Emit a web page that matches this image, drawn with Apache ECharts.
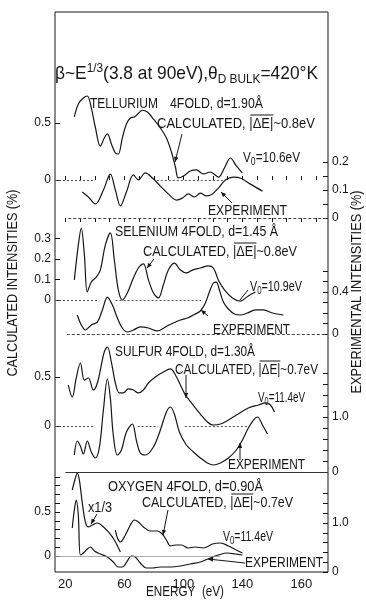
<!DOCTYPE html>
<html><head><meta charset="utf-8">
<script src="https://cdn.jsdelivr.net/npm/echarts@6/dist/echarts.min.js"></script>
<style>html,body{margin:0;padding:0;background:#fff}#c{width:366px;height:600px}</style>
</head><body><div id="c"></div>
<script>
// ---------------- data ----------------
const energyTickValues = [20, 60, 100, 140, 180];
const energyTickLabels = ['20', '60', '100', '140', '160'];
const energyMinorTicks = [20,30,40,50,60,70,80,90,100,110,120,130,140,150,160,170,180,190];

// Tellurium
const teCalcE = [26.1,28.8,32.2,34.9,37.6,40.3,43.7,46.4,48.5,51.2,53.9,55.9,58.6,61.4,64.1,66.8,69.5,72.2,75.6,79.7,84.4,88.5,91.9,94.6,96.6,100,104.7,108.8,113.6,118.3,123.7,127.8,131.9,135.9,140];
const teCalcV = [0.553,0.667,0.719,0.737,0.632,0.465,0.298,0.368,0.404,0.316,0.237,0.228,0.368,0.491,0.544,0.553,0.585,0.612,0.596,0.535,0.456,0.368,0.246,0.114,0.018,0.035,0.079,0.088,0.053,0.070,0.026,0.105,0.193,0.123,0.061];
const teExpE = [31.5,35.6,40.3,45.8,50.5,53.9,57.3,61.4,66.1,69.5,74.2,79,84.4,89.8,95.3,99.3,103.4,107.5,111.5,115.6,119.7,123.7,128.5,133.9,138.6,145.4,153.6];
const teExpV = [0.093,0.075,0.05,0.1,0.157,0.1,0.043,0.093,0.154,0.136,0.161,0.143,0.114,0.086,0.064,0.071,0.086,0.075,0.089,0.079,0.086,0.107,0.136,0.146,0.143,0.121,0.096];

// Selenium
const seCalcE = [26.1,28.8,30.8,32.9,34.9,37.6,41,43.7,47.1,50.5,53.2,55.9,58.6,62,66.1,69.5,72.9,76.3,79.7,83.1,86.4,89.8,93.9,98,102,106.1,111.5,117,120.3,123.7,127.8,133.2,138.6,144,148.8];
const seCalcV = [0.098,0.268,0.351,0.22,0.039,0.088,0.112,0.146,0.268,0.327,0.195,0.049,0.0,0.034,0.107,0.156,0.176,0.098,0.034,0.01,0.073,0.146,0.18,0.146,0.132,0.146,0.156,0.166,0.156,0.098,0.049,0.01,-0.005,0.02,0.039];
const seExpE = [28.1,30.8,33.6,37.6,41.7,45.1,48.5,51.9,55.3,58.6,62,66.1,70.8,76.3,82.4,87.8,93.2,98,102.7,106.8,111.5,114.9,117.6,120.3,122.3,124.4,127.1,130.5,134.6,138.6,143.4,148.8,154.2,160.3,167.8];
const seExpV = [0.181,0.086,0.038,0.086,0.114,0.229,0.352,0.276,0.152,0.057,0.019,0.038,0.067,0.057,0.029,0.067,0.105,0.133,0.152,0.181,0.219,0.295,0.4,0.486,0.495,0.419,0.305,0.238,0.19,0.181,0.2,0.229,0.229,0.2,0.181];

// Sulfur
const sCalcE = [22,24.7,27.4,30.2,32.9,35.6,39,41.7,44.4,46.4,48.5,51.2,53.9,56.6,59.3,62.7,66.1,69.5,72.9,76.3,81,86.4,91.2,94.6,98,101.4,106.1,111.5,116.3,120.3,125.1,130.5,137.2,144,150.9,155.6,159,161.7];
const sCalcV = [0.418,0.296,0.49,0.643,0.469,0.49,0.367,0.439,0.622,0.755,0.806,0.653,0.439,0.337,0.337,0.378,0.367,0.337,0.367,0.439,0.5,0.551,0.582,0.52,0.418,0.316,0.224,0.122,0.041,0.01,0.02,0.061,0.122,0.184,0.214,0.235,0.214,0.143];
const sExpE = [26.1,28.1,30.2,32.2,34.9,37.6,40.3,43,45.8,48.5,50.5,52.5,55.3,58,61.4,65.4,68.1,70.8,74.2,79.7,84.4,88.5,91.2,93.9,97.3,102,106.8,111.5,116.3,120.3,125.1,130.5,135.9,140,144,147.5,150.2,153.6,157];
const sExpV = [0.309,0.564,0.473,0.327,0.564,0.364,0.255,0.436,1.127,1.691,1.345,0.673,0.309,0.4,0.727,0.873,0.582,0.345,0.309,0.455,0.764,1.091,1.182,1.055,0.727,0.491,0.364,0.255,0.164,0.127,0.164,0.255,0.4,0.582,0.8,0.945,1.0,0.855,0.691];

// Oxygen
const oCalcThirdE = [24.7,26.8,28.1,29.5,31.5,33.6,35.6,38.3,41.7,45.1,49.2,53.2,57.3];
const oCalcThirdV = [0.75,0.886,0.943,0.864,0.602,0.386,0.33,0.352,0.375,0.341,0.273,0.182,0.045];
const oCalcE = [53.9,55.3,57.3,60.7,64.1,66.8,69.5,72.9,77.6,82.4,85.7,88.5,91.2,94.6,98.6,103.4,108.1,113.6,119.7,125.1,130.5,135.9,140];
const oCalcV = [0.295,0.205,0.159,0.239,0.352,0.409,0.386,0.33,0.284,0.284,0.25,0.182,0.114,0.125,0.125,0.091,0.102,0.091,0.136,0.148,0.114,0.068,0.034];
const oExpE = [24.7,26.1,27.4,28.8,30.2,32.2,34.9,37,39.7,43.7,48.5,52.5,55.9,58.6,62,64.7,67.4,70.8,74.9,79,84.4,91.2,98,104.7,111.5,118.3,123.7,129.8,135.2,140];
const oExpV = [0.898,1.265,1.469,1.163,0.347,0.388,0.469,0.51,0.429,0.367,0.306,0.204,0.102,0.102,0.224,0.327,0.306,0.184,0.082,0.082,0.102,0.102,0.122,0.163,0.204,0.286,0.347,0.388,0.367,0.347];

// axis tick values / labels
const teCalcTicks = [0, 0.5], teCalcTickLabels = ['0', '0.5'];
const teExpTicks = [0, 0.1, 0.2], teExpTickLabels = ['0', '0.1', '0.2'];
const teExpMinor = [0, 0.05, 0.1, 0.15, 0.2];
const seCalcTicks = [0, 0.1, 0.2, 0.3], seCalcTickLabels = ['0', '0.1', '0.2', '0.3'];
const seExpTicks = [0, 0.4], seExpTickLabels = ['0', '0.4'];
const seExpMinor = [0, 0.1, 0.2, 0.3, 0.4, 0.5, 0.6];
const sCalcTicks = [0, 0.5], sCalcTickLabels = ['0', '0.5'];
const sExpTicks = [0, 1.0], sExpTickLabels = ['0', '1.0'];
const sExpMinor = [0, 0.2, 0.4, 0.6, 0.8, 1.0, 1.2, 1.4, 1.6, 1.8];
const oCalcTicks = [0, 0.5], oCalcTickLabels = ['0', '0.5'];
const oCalcMinor = [0, 0.1, 0.2, 0.3, 0.4, 0.5, 0.6, 0.7, 0.8, 0.9];
const oExpTicks = [0, 1.0], oExpTickLabels = ['0', '1.0'];
const oExpMinor = [0, 0.2, 0.4, 0.6, 0.8, 1.0, 1.2, 1.4, 1.6];

// ---------------- layout ----------------
const G = { left: 55, right: 328, top: 12, bottom: 572 };
const INK = '#161616';
const FONT = '"Liberation Sans", Arial, sans-serif';

function yAx(zeroPx, ppu, side, ticks, labels, minor) {
  return {
    type: 'value', gridIndex: 0, position: side, offset: 0,
    min: -(G.bottom - zeroPx) / ppu, max: (zeroPx - G.top) / ppu,
    axisLine: { show: false }, splitLine: { show: false },
    axisTick: { show: true, inside: true, length: 5, customValues: minor || ticks, lineStyle: { color: INK, width: 1 } },
    axisLabel: {
      show: true, customValues: ticks, margin: 4, fontSize: 12, color: INK, fontFamily: FONT,
      formatter: v => { const i = ticks.findIndex(t => Math.abs(t - v) < 1e-6); return i >= 0 ? labels[i] : ''; }
    }
  };
}

const yAxes = [
  yAx(180, 114, 'left', teCalcTicks, teCalcTickLabels),
  yAx(218, 280, 'right', teExpTicks, teExpTickLabels, teExpMinor),
  yAx(300, 205, 'left', seCalcTicks, seCalcTickLabels),
  yAx(334, 105, 'right', seExpTicks, seExpTickLabels, seExpMinor),
  yAx(426, 98, 'left', sCalcTicks, sCalcTickLabels),
  yAx(472, 55, 'right', sExpTicks, sExpTickLabels, sExpMinor),
  yAx(556, 88, 'left', oCalcTicks, oCalcTickLabels, oCalcMinor),
  yAx(572, 49, 'right', oExpTicks, oExpTickLabels, oExpMinor)
];

const dotted = { type: [2, 2], color: '#555', width: 1 };
function zl(segs, style) {
  return { silent: true, symbol: 'none', label: { show: false }, lineStyle: style || dotted,
    data: segs.map(s => [{ coord: [s[0], 0] }, { coord: [s[1], 0] }]) };
}
function curve(E, V, yi, mark) {
  const s = { type: 'line', yAxisIndex: yi, xAxisIndex: 0, data: E.map((e, i) => [e, V[i]]),
    smooth: 0.35, showSymbol: false, clip: false, silent: true,
    lineStyle: { color: INK, width: 1.2 } };
  if (mark) s.markLine = mark;
  return s;
}

const series = [
  curve(teCalcE, teCalcV, 0, zl([[13, 39], [82, 127]])),
  curve(teExpE, teExpV, 1, zl([[22, 198]], { type: [3, 2], color: '#444', width: 1 })),
  curve(seCalcE, seCalcV, 2, zl([[13, 42], [54, 112]])),
  curve(seExpE, seExpV, 3, zl([[21, 198]], { type: [3, 2], color: '#444', width: 1 })),
  curve(sCalcE, sCalcV, 4, zl([[13, 40], [69, 83], [101, 143]])),
  curve(sExpE, sExpV, 5, zl([[20, 198]], { type: 'solid', color: '#333', width: 1 })),
  curve(oCalcThirdE, oCalcThirdV, 6, zl([[13, 125]], { type: 'solid', color: '#999', width: 0.8 })),
  curve(oCalcE, oCalcV, 6),
  curve(oExpE, oExpV, 7)
];

// ---------------- text helpers ----------------
const mctx = document.createElement('canvas').getContext('2d');
function tw(t, size) { mctx.font = size + 'px ' + FONT; return mctx.measureText(t).width; }
function txt(x, y, t, size, k, extra) {
  return Object.assign({ type: 'text', x: x, y: y, scaleX: k || 1, silent: true,
    style: { text: t, font: size + 'px ' + FONT, fill: INK, textAlign: 'left', align: 'left',
      textVerticalAlign: 'middle', verticalAlign: 'middle' } }, extra || {});
}
// parts: {t, s(size), dy, over}; fitted horizontally to width W starting at x
function seq(x, y, W, parts, base) {
  const ws = parts.map(p => tw(p.t, p.s || base));
  const total = ws.reduce((a, b) => a + b, 0);
  const k = W / total;
  const out = []; let cx = x;
  parts.forEach((p, i) => {
    const size = p.s || base;
    out.push(txt(cx, y + (p.dy || 0), p.t, size, k));
    if (p.over) out.push({ type: 'line', silent: true, shape: { x1: cx + 1, y1: y - size * 0.6, x2: cx + ws[i] * k, y2: y - size * 0.6 }, style: { stroke: INK, lineWidth: 1 } });
    cx += ws[i] * k;
  });
  return out;
}
const LB = 15;
function plain(x, y, W, t) { return seq(x, y, W, [{ t: t }], LB); }
function calcLabel(x, y, W, dE) {
  return seq(x, y, W, [{ t: 'CALCULATED, ' }, { t: '|ΔE|', over: true }, { t: '~' + dE + 'eV' }], LB);
}
function v0(x, y, W, val) { return seq(x, y, W, [{ t: 'V' }, { t: '0', s: 11, dy: 4 }, { t: '=' + val + 'eV' }], LB); }
function arrow(x1, y1, x2, y2, head) {
  const els = [{ type: 'line', silent: true, shape: { x1, y1, x2, y2 }, style: { stroke: INK, lineWidth: 1 } }];
  if (head !== false) {
    const a = Math.atan2(y2 - y1, x2 - x1), L = 5, Wd = 2.2;
    const bx = x2 - L * Math.cos(a), by = y2 - L * Math.sin(a);
    els.push({ type: 'polygon', silent: true, shape: { points: [[x2, y2], [bx + Wd * Math.sin(a), by - Wd * Math.cos(a)], [bx - Wd * Math.sin(a), by + Wd * Math.cos(a)]] }, style: { fill: INK } });
  }
  return els;
}
function centered(cx, cy, W, t, size, rot) {
  const k = W / tw(t, size);
  return [{ type: 'text', x: cx, y: cy, rotation: rot || 0, scaleX: k, silent: true,
    style: { text: t, font: size + 'px ' + FONT, fill: INK, textAlign: 'center', align: 'center', textVerticalAlign: 'middle', verticalAlign: 'middle' } }];
}

const graphics = [].concat(
  seq(55, 74, 263, [{ t: 'β~E' }, { t: '1/3', s: 13, dy: -6 }, { t: '(3.8 at 90eV),θ' }, { t: 'D BULK', s: 13, dy: 5 }, { t: '=420°K' }], 19),
  plain(90, 104, 68, 'TELLURIUM'),
  plain(170, 104, 93, '4FOLD, d=1.90Å'),
  calcLabel(157, 124, 158, '0.8'),
  v0(243, 158, 57, '10.6'),
  plain(208, 211, 79, 'EXPERIMENT'),
  plain(115, 232, 163, 'SELENIUM 4FOLD, d=1.45 Å'),
  calcLabel(143, 252, 154, '0.8'),
  v0(250, 287, 52, '10.9'),
  plain(213, 330, 77, 'EXPERIMENT'),
  plain(115, 352, 140, 'SULFUR 4FOLD, d=1.30Å'),
  calcLabel(175, 370, 143, '0.7'),
  v0(258, 398, 47, '11.4'),
  plain(228, 465, 77, 'EXPERIMENT'),
  plain(108, 487, 155, 'OXYGEN 4FOLD, d=0.90Å'),
  plain(88, 508, 24, 'x1/3'),
  calcLabel(142, 503, 151, '0.7'),
  v0(223, 537, 50, '11.4'),
  plain(245, 563, 78, 'EXPERIMENT'),
  arrow(182, 134, 175, 162),
  arrow(232, 203, 221, 192),
  arrow(154, 259, 147, 268),
  arrow(248, 290, 240, 300, false),
  arrow(208, 316, 201, 310),
  arrow(186, 375, 186, 398),
  arrow(240, 460, 240, 443),
  arrow(97, 514, 91, 524),
  arrow(168, 510, 163, 535),
  arrow(245, 563, 208, 559),
  centered(13, 283, 187, 'CALCULATED INTENSITIES (%)', 15, Math.PI / 2),
  centered(357, 292, 203, 'EXPERIMENTAL INTENSITIES (%)', 15, Math.PI / 2),
  centered(185, 592, 78, 'ENERGY  (eV)', 14, 0)
);

const chart = echarts.init(document.getElementById('c'), null, { renderer: 'canvas' });
chart.setOption({
  animation: false,
  backgroundColor: '#fff',
  grid: { left: G.left, right: 366 - G.right, top: G.top, bottom: 600 - G.bottom, show: true, borderColor: INK, borderWidth: 1, backgroundColor: 'transparent' },
  xAxis: [
    { type: 'value', min: 13, max: 198, position: 'bottom', axisLine: { show: false }, splitLine: { show: false },
      axisTick: { show: true, inside: true, length: 4, customValues: energyMinorTicks, lineStyle: { color: INK } },
      axisLabel: { show: true, customValues: energyTickValues, margin: 6, fontSize: 13, color: INK, fontFamily: FONT,
        formatter: v => { const i = energyTickValues.indexOf(v); return i >= 0 ? energyTickLabels[i] : ''; } } },
    { type: 'value', min: 13, max: 198, position: 'top', axisLine: { show: false }, splitLine: { show: false },
      axisTick: { show: true, inside: true, length: 4, customValues: energyMinorTicks, lineStyle: { color: INK } },
      axisLabel: { show: false } }
  ],
  yAxis: yAxes,
  series: series,
  graphic: { elements: graphics }
});
</script></body></html>
